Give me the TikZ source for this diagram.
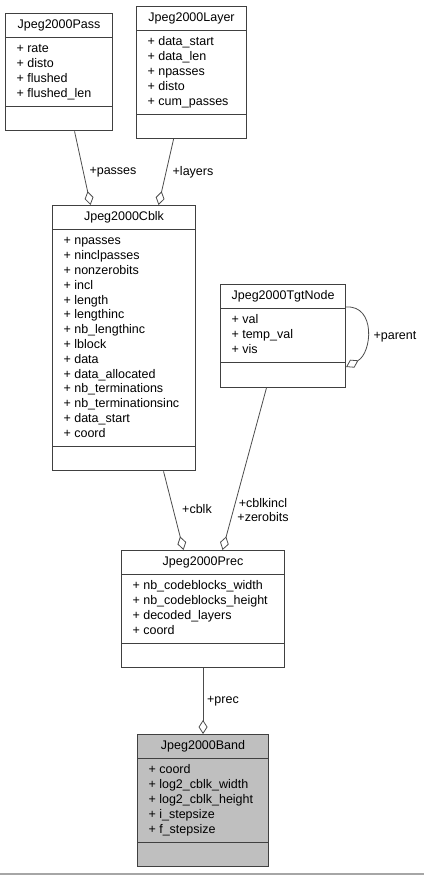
\documentclass[tikz,border=0pt]{standalone}
\usepackage{fontspec}
\setmainfont{Liberation Sans}
\usepackage{xcolor}
\usetikzlibrary{positioning,shapes.multipart,arrows.meta}
\definecolor{grey75}{HTML}{BFBFBF}
\newcommand{\attr}[1]{\strut+ #1}

\begin{document}
\begin{tikzpicture}[x=1pt, y=1pt,
          every node/.style={font=\fontsize{12.5}{14.8}\selectfont},
          assoc/.style={draw=black!70, line width=0.8pt, -{Diamond[open, length=14pt, width=9pt, line width=0.8pt]}},
          rolelabel/.style={inner sep=1pt, align=center}]
          % A class box style
          \tikzstyle{classbox} = [draw=black!75, line width=1.1pt, fill=white, rectangle split, rectangle split parts=3,
              rectangle split part align={center,left,left}, align=left, inner xsep=11pt, inner ysep=4.2pt, anchor=north west]
          \tikzstyle{focusbox} = [classbox, fill=grey75]

          \useasboundingbox (0,0) rectangle (424,-875);

          % Place the classes
          \node (Pass) [classbox, minimum width=107pt] at (5,-13) {\strut Jpeg2000Pass
              \nodepart{two}\attr{rate}\\ \attr{disto}\\ \attr{flushed}\\ \attr{flushed\_len}
              \nodepart{three}\strut};
          \node (Layer) [classbox, minimum width=110pt] at (136,-6) {\strut Jpeg2000Layer
              \nodepart{two}\attr{data\_start}\\ \attr{data\_len}\\ \attr{npasses}\\ \attr{disto}\\ \attr{cum\_passes}
              \nodepart{three}\strut};
          \node (Cblk) [classbox, minimum width=143pt] at (52,-205) {\strut Jpeg2000Cblk
              \nodepart{two}\attr{npasses}\\ \attr{ninclpasses}\\ \attr{nonzerobits}\\ \attr{incl}\\ \attr{length}\\
              \attr{lengthinc}\\ \attr{nb\_lengthinc}\\ \attr{lblock}\\ \attr{data}\\ \attr{data\_allocated}\\
              \attr{nb\_terminations}\\ \attr{nb\_terminationsinc}\\ \attr{data\_start}\\ \attr{coord}
              \nodepart{three}\strut};
          \node (TgtNode) [classbox, minimum width=125pt] at (220,-284) {\strut Jpeg2000TgtNode
              \nodepart{two}\attr{val}\\ \attr{temp\_val}\\ \attr{vis}
              \nodepart{three}\strut};
          \node (Prec) [classbox, minimum width=163pt] at (121,-550) {\strut Jpeg2000Prec
              \nodepart{two}\attr{nb\_codeblocks\_width}\\ \attr{nb\_codeblocks\_height}\\ \attr{decoded\_layers}\\ \attr{coord}
              \nodepart{three}\strut};
          \node (Band) [focusbox, minimum width=131pt] at (137,-734) {\strut Jpeg2000Band
              \nodepart{two}\attr{coord}\\ \attr{log2\_cblk\_width}\\ \attr{log2\_cblk\_height}\\ \attr{i\_stepsize}\\ \attr{f\_stepsize}
              \nodepart{three}\strut};

          % Draw the associations
          \draw[assoc] ([xshift=15.5pt]Pass.south) -- ([xshift=-33.5pt]Cblk.north);
          \draw[assoc] ([xshift=-18pt]Layer.south) -- ([xshift=34.5pt]Cblk.north);
          \draw[assoc] ([xshift=39.5pt]Cblk.south) -- ([xshift=-19.5pt]Prec.north);
          \draw[assoc] ([xshift=-16.5pt]TgtNode.south) -- ([xshift=19.5pt]Prec.north);
          \draw[assoc] (Prec.south) -- (Band.north);
          \draw[assoc] ([yshift=-23pt]TgtNode.north east) .. controls +(30,2) and +(26,14) .. ([yshift=-83pt]TgtNode.north east);

          % Role names
          \node (passes) [rolelabel] at (113,-172) {+passes};
          \node (layers) [rolelabel] at (193,-172) {+layers};
          \node (cblk) [rolelabel] at (197,-509) {+cblk};
          \node (cblkincl) [rolelabel] at (263,-510) {+cblkincl\\+zerobits};
          \node (parent) [rolelabel] at (395,-337) {+parent};
          \node (prec) [rolelabel] at (223,-701) {+prec};

          \draw[black!35, line width=1.2pt] (0,-874) -- (424,-874);
\end{tikzpicture}
\end{document}
